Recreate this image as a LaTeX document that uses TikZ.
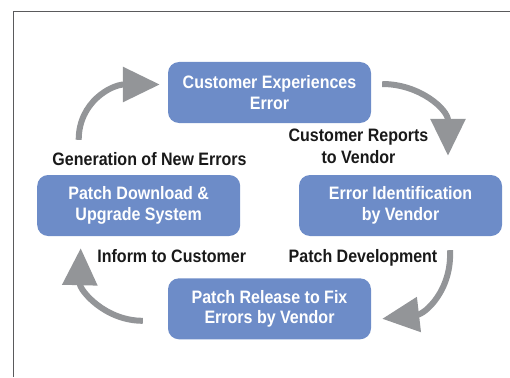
\documentclass[tikz,border=0pt]{standalone}
\usepackage{fontspec}
\setsansfont{Liberation Sans}[FakeStretch=0.89]
\usepackage{tikz}
\usetikzlibrary{positioning,arrows.meta,calc}
\definecolor{stagec}{RGB}{109,140,200}
\definecolor{cyclec}{RGB}{147,149,152}
\definecolor{framec}{RGB}{90,90,92}
\tikzset{
  stage/.style    = {fill=stagec, rounded corners=11pt, minimum width=203pt,
                     minimum height=61pt, inner sep=0pt, align=center, text=white,
                     font=\sffamily\bfseries\fontsize{18}{20.5}\selectfont},
  note/.style     = {align=center, text=black!90, inner sep=0pt,
                     font=\sffamily\bfseries\fontsize{18}{21.5}\selectfont},
  cycarrow/.style = {-{Triangle[length=37pt, width=34pt]}, line width=6pt, draw=cyclec},
}

\begin{document}
\begin{tikzpicture}[x=1pt, y=-1pt]
\useasboundingbox (0,0) rectangle (510,377);
\draw[framec, line width=1.5pt] (13.5,377) -- (13.5,11.5) -- (510,11.5);

% the four stages
\node[stage] (custerr)  at (269.5,92.5)  {Customer Experiences\\Error};
\node[stage] (errid)    at (400.5,205.5) {Error Identification\\by Vendor};
\node[stage] (patchrel) at (269.5,308.8) {Patch Release to Fix\\Errors by Vendor};
\node[stage] (patchdl)  at (138.7,205.5) {Patch Download \&\\Upgrade System};

% labels between them
\node[note, anchor=base] (lblreport) at (358.5,163)   {Customer Reports\\to Vendor};
\node[note, anchor=base] (lblgen)    at (149.5,165)   {Generation of New Errors};
\node[note, anchor=base] (lbldev)    at (363,262.7)   {Patch Development};
\node[note, anchor=base] (lblinform) at (171.7,262.7) {Inform to Customer};

\draw[cycarrow] ($(custerr.east)+(11,-8.5)$) .. controls +(38,0) and +(0,-46) .. ($(errid.north)+(47.5,-19)$);
\draw[cycarrow] ($(errid.south)+(49.5,14)$) .. controls +(2,40) and +(43,-5) .. ($(patchrel.east)+(11,10)$);
\draw[cycarrow] ($(patchrel.west)+(-25,12)$) .. controls +(-38,0) and +(-1,42) .. ($(patchdl.south)+(-58,12)$);
\draw[cycarrow] ($(patchdl.north)+(-60,-35)$) .. controls +(0,-38) and +(-48,0) .. ($(custerr.west)+(-8,-8)$);

\end{tikzpicture}
\end{document}
